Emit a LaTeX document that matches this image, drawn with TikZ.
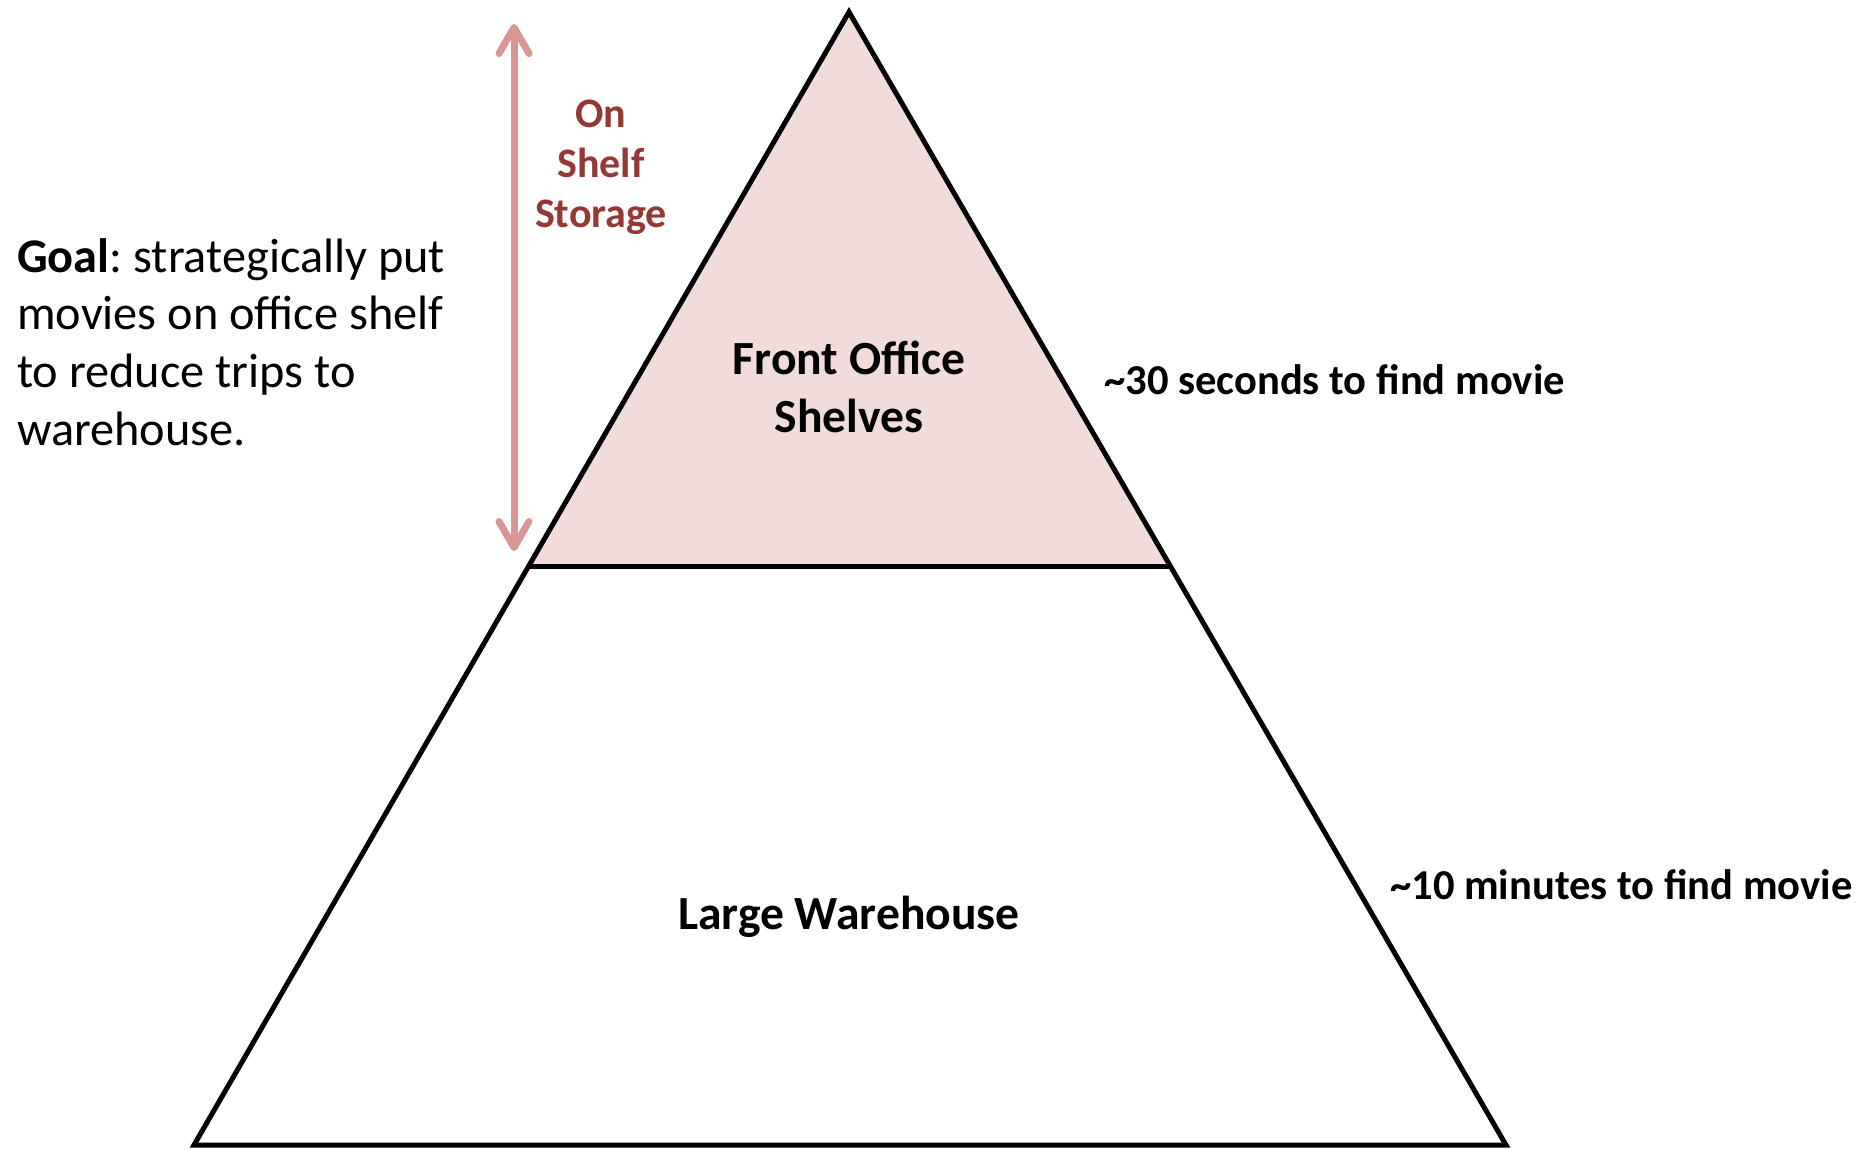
\documentclass[tikz,border=0pt]{standalone}
\usepackage{fontspec}
\setmainfont{Carlito}
\usetikzlibrary{arrows.meta,calc}
\definecolor{pinkfill}{HTML}{F2DCDB}
\definecolor{arrowpink}{HTML}{D99694}
\definecolor{darkred}{HTML}{953735}
\frenchspacing
\tikzset{
  edge/.style={draw=black,line width=5pt,line join=miter},
  bigtxt/.style={font=\fontsize{47.6}{58}\selectfont\bfseries,align=center,inner sep=0pt},
  goaltxt/.style={font=\fontsize{48.3}{57.7}\selectfont,align=left,inner sep=0pt},
  redtxt/.style={font=\fontsize{42}{50}\selectfont\bfseries,text=darkred,align=center,inner sep=0pt},
  timetxt/.style={font=\fontsize{42.6}{50}\selectfont\bfseries,inner sep=0pt},
  sizearrow/.style={draw=arrowpink,line width=7pt,line cap=round,
    arrows={Straight Barb[length=26pt,width=30pt,line cap=round,line join=round]-Straight Barb[length=26pt,width=30pt,line cap=round,line join=round]}}
}
\begin{document}
\begin{tikzpicture}[x=1pt,y=-1pt]
\useasboundingbox[fill=white] (0,0) rectangle (1867,1148);
\coordinate (apex) at (849,12);
\coordinate (bl) at (194,1145);
\coordinate (br) at (1506,1145);
\coordinate (ml) at ($(apex)!0.489!(bl)$);
\coordinate (mr) at ($(apex)!0.489!(br)$);
\path[fill=pinkfill] (apex) -- (ml) -- (mr) -- cycle;
\draw[edge] (apex) -- (bl) -- (br) -- cycle;
\draw[edge] (ml) -- (mr);
\coordinate (atop) at (514,24);
\coordinate (abot) at (514,551);
\draw[sizearrow] (atop) -- (abot);
\node[redtxt] (onshelf) at (601,167) {On\\Shelf\\Storage};
\node[bigtxt] (front) at (849,387) {Front Office\\Shelves};
\node[bigtxt] (large) at (849,917) {Large Warehouse};
\node[timetxt,anchor=west] (t30) at (1104,380) {\textasciitilde 30 seconds to find movie};
\node[timetxt,anchor=west] (t10) at (1390,885) {\textasciitilde 10 minutes to find movie};
\node[goaltxt,anchor=west] (goal) at (17,342) {\textbf{Goal}: strategically put\\movies on office shelf\\to reduce trips to\\warehouse.};
\end{tikzpicture}
\end{document}
